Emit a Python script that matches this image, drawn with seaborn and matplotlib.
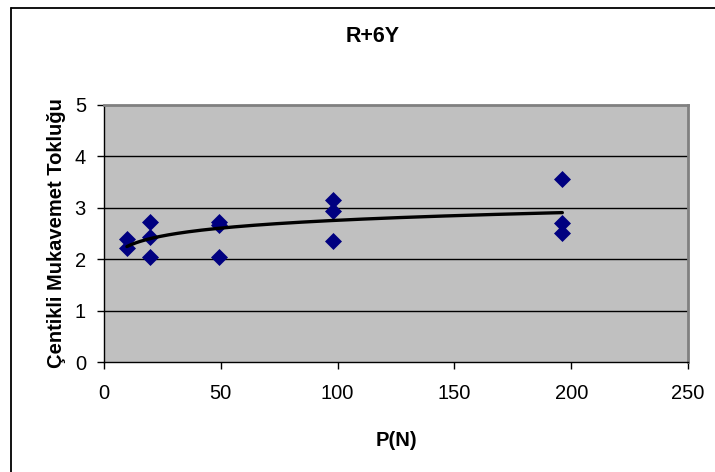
import numpy as np
import pandas as pd
import seaborn as sns
import matplotlib.pyplot as plt
from matplotlib.lines import Line2D

# Measured notch toughness for each applied load
load = [9.81, 9.81, 19.62, 19.62, 19.62, 49.05, 49.05, 49.05,
        98.1, 98.1, 98.1, 196.2, 196.2, 196.2]
toughness = [2.40, 2.22, 2.72, 2.44, 2.04, 2.72, 2.66, 2.04,
             3.16, 2.94, 2.36, 3.56, 2.70, 2.51]

x_ticks = [0, 50, 100, 150, 200, 250]
y_ticks = [0, 1, 2, 3, 4, 5]

title = "R+6Y"
x_label = "P(N)"
y_label = "Çentikli Mukavemet Tokluğu"

sns.set_theme(style="white")
plt.rcParams["font.family"] = ["Liberation Sans", "DejaVu Sans"]
plt.rcParams["text.color"] = "black"
plt.rcParams["axes.labelcolor"] = "black"
plt.rcParams["xtick.color"] = "black"
plt.rcParams["ytick.color"] = "black"

df = pd.DataFrame({"P": load, "T": toughness})

# Logarithmic trend line fitted to the measurements
a, b = np.polyfit(np.log(df["P"]), df["T"], 1)
xt = np.linspace(min(load), max(load), 200)
trend = pd.DataFrame({"P": xt, "T": a * np.log(xt) + b})

fig = plt.figure(figsize=(7.15, 4.72), dpi=100)
ax = fig.add_axes([104 / 715, 1 - 362 / 472, (688 - 104) / 715, (362 - 105) / 472])
ax.set_facecolor("#C0C0C0")

sns.scatterplot(data=df, x="P", y="T", ax=ax, marker="D", s=75,
                color="#000080", edgecolor="#000080", linewidth=0, zorder=3)
sns.lineplot(data=trend, x="P", y="T", ax=ax, color="black", lw=2.4, zorder=4)

ax.set_xlim(0, 250)
ax.set_ylim(0, 5)
ax.set_xticks(x_ticks)
ax.set_yticks(y_ticks)
ax.tick_params(axis="both", which="major", labelsize=14.5, length=5,
               width=1, color="black", direction="out", pad=8,
               bottom=True, left=True)
ax.tick_params(axis="x", pad=11)
for yv in y_ticks[1:-1]:
    ax.axhline(yv, color="black", lw=1, zorder=1)

for side in ("top", "right"):
    ax.spines[side].set_color("#808080")
    ax.spines[side].set_linewidth(2)
for side in ("left", "bottom"):
    ax.spines[side].set_color("black")
    ax.spines[side].set_linewidth(1)

ax.set_xlabel(x_label, fontsize=14.5, fontweight="bold", labelpad=20)
ax.set_ylabel(y_label, fontsize=14.5, fontweight="bold", labelpad=6)
fig.text(373 / 715, 1 - 36 / 472, title, ha="center", va="center",
         fontsize=15.5, fontweight="bold")

# Chart area frame
fig.add_artist(Line2D([11 / 715, 11 / 715], [0, 1 - 8 / 472], color="black", lw=1.3,
                      transform=fig.transFigure))
fig.add_artist(Line2D([11 / 715, 1], [1 - 8 / 472, 1 - 8 / 472], color="black", lw=1.3,
                      transform=fig.transFigure))

fig.savefig("out.png", dpi=100)
